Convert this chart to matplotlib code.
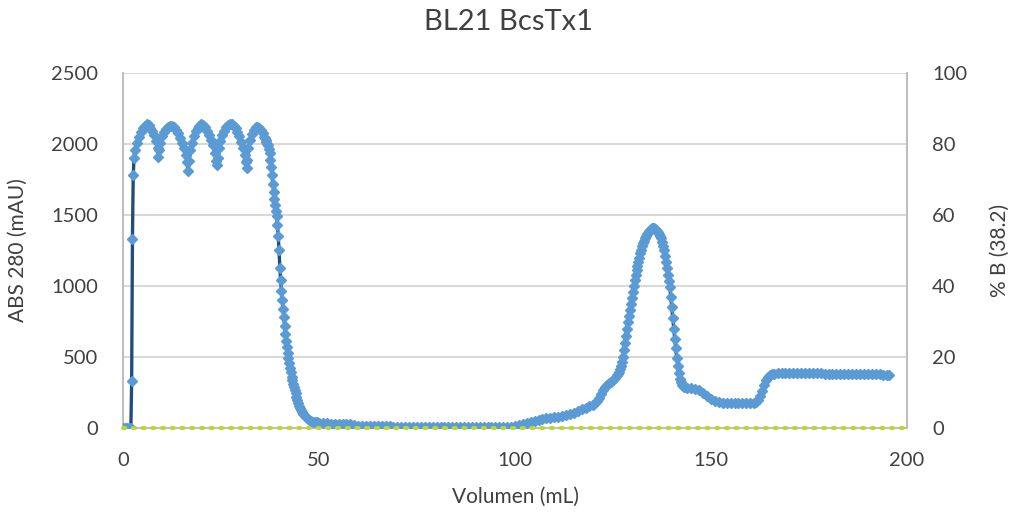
import matplotlib
matplotlib.use("Agg")
import matplotlib.pyplot as plt

plt.rcParams['font.family'] = ['Lato', 'DejaVu Sans']

title = "BL21 BcsTx1"
x_label = "Volumen (mL)"
y_label_left = "ABS 280 (mAU)"
y_label_right = "% B (38.2)"

x_ticks = [0, 50, 100, 150, 200]
y_ticks_left = [0, 500, 1000, 1500, 2000, 2500]
y_ticks_right = [0, 20, 40, 60, 80, 100]

# --- ABS 280 trace in segments ---
vol_load = [
    0.0, 0.5, 1.0, 1.5, 2.0, 2.2, 2.4, 2.6, 2.8, 3.0,
    3.5, 4.0, 4.5, 5.0, 5.5, 6.0, 6.5, 7.0, 7.5, 8.0,
    8.5, 8.8, 9.0, 9.2, 9.5, 10.0, 10.5, 11.0, 11.5, 12.0,
    12.5, 13.0, 13.5, 14.0, 14.5, 15.0, 15.5, 16.0, 16.3, 16.6,
    16.9, 17.2, 17.5, 18.0, 18.5, 19.0, 19.5, 20.0, 20.5, 21.0,
    21.5, 22.0, 22.5, 23.0, 23.4, 23.7, 23.9, 24.1, 24.4, 24.8,
    25.2, 25.7, 26.2, 26.7, 27.2, 27.7, 28.2, 28.7, 29.2, 29.7,
    30.2, 30.6, 31.0, 31.3, 31.5, 31.7, 32.0, 32.4, 32.8, 33.3,
    33.8, 34.3, 34.8, 35.2, 35.6,
]
abs_load = [
    0, 0, 0, 0, 0, 330, 1330, 1780, 1900, 1960,
    2010, 2050, 2085, 2110, 2130, 2140, 2135, 2115, 2090, 2060,
    2020, 1970, 1910, 1960, 2010, 2055, 2085, 2105, 2120, 2128,
    2128, 2118, 2100, 2075, 2045, 2010, 1970, 1920, 1870, 1810,
    1880, 1960, 2010, 2055, 2090, 2115, 2130, 2138, 2135, 2120,
    2095, 2065, 2030, 1990, 1940, 1880, 1850, 1900, 1970, 2020,
    2060, 2095, 2118, 2132, 2138, 2138, 2128, 2110, 2085, 2055,
    2015, 1975, 1920, 1870, 1830, 1890, 1970, 2030, 2070, 2100,
    2118, 2122, 2115, 2100, 2075,
]

vol_wash = [
    36.0, 36.2, 36.4, 36.6, 36.8, 37.0, 37.2, 37.4, 37.6, 37.8,
    38.0, 38.2, 38.4, 38.6, 38.8, 39.0, 39.2, 39.4, 39.6, 39.8,
    40.0, 40.2, 40.4, 40.6, 40.8, 41.0, 41.2, 41.4, 41.6, 41.8,
    42.0, 42.2, 42.4, 42.6, 42.8, 43.0, 43.2, 43.4, 43.6, 43.8,
    44.0, 44.25, 44.5, 44.75, 45.0, 45.25, 45.5, 45.75, 46.0, 46.5,
    47.0, 47.5, 48.0, 48.5, 49.0, 49.5, 50.0, 51.0, 52.0, 53.0,
    54.0, 55.0, 56.0, 57.0, 58.0, 59.0, 60.0, 61.0, 62.0, 63.0,
    64.0, 65.0, 66.0, 67.0, 68.0, 69.0, 70.0, 71.0, 72.0, 73.0,
    74.0, 75.0, 76.0, 77.0, 78.0, 79.0, 80.0, 81.0, 82.0, 83.0,
    84.0, 85.0, 86.0, 87.0, 88.0, 89.0, 90.0, 91.0, 92.0, 93.0,
    94.0, 95.0, 96.0, 97.0, 98.0, 99.0,
]
abs_wash = [
    2050, 2040, 2028, 2015, 2000, 1990, 1965, 1935, 1890, 1840,
    1780, 1720, 1665, 1615, 1570, 1530, 1490, 1430, 1350, 1250,
    1130, 1040, 965, 900, 840, 780, 720, 665, 615, 570,
    530, 495, 460, 425, 393, 360, 335, 310, 288, 266,
    245, 220, 195, 175, 155, 140, 125, 112, 100, 82,
    68, 58, 50, 45, 42, 39, 36, 33, 32, 31,
    30, 30, 29, 28, 25, 20, 17, 16, 15, 15,
    14, 14, 14, 13, 13, 10, 8, 6, 5, 5,
    5, 5, 5, 5, 5, 5, 5, 5, 5, 5,
    5, 5, 5, 5, 5, 5, 5, 5, 5, 5,
    5, 5, 5, 5, 6, 8,
]

vol_elution = [
    100.0, 101.0, 102.0, 103.0, 104.0, 105.0, 106.0, 107.0, 108.0, 109.0,
    110.0, 111.0, 112.0, 113.0, 114.0, 115.0, 116.0, 117.0, 118.0, 119.0,
    120.0, 120.5, 121.0, 121.5, 122.0, 122.5, 123.0, 123.5, 124.0, 124.5,
    125.0, 125.5, 126.0, 126.25, 126.5, 126.75, 127.0, 127.25, 127.5, 127.75,
    128.0, 128.25, 128.5, 128.75, 129.0, 129.25, 129.5, 129.75, 130.0, 130.25,
    130.5, 130.75, 131.0, 131.25, 131.5, 131.75, 132.0, 132.25, 132.5, 132.75,
    133.0, 133.25, 133.5, 133.75, 134.0, 134.25, 134.5, 134.75, 135.0, 135.25,
    135.5, 135.75, 136.0, 136.25, 136.5, 136.75, 137.0, 137.25, 137.5, 137.75,
    138.0, 138.25, 138.5, 138.75, 139.0, 139.25, 139.5, 139.75, 140.0, 140.25,
    140.5, 140.75, 141.0, 141.25, 141.5, 141.75, 142.0, 142.25, 142.5, 142.75,
    143.0,
]
abs_elution = [
    15, 20, 28, 35, 42, 48, 55, 62, 68, 72,
    76, 80, 84, 90, 98, 108, 120, 132, 142, 152,
    165, 175, 190, 212, 240, 268, 290, 303, 315, 326,
    338, 352, 370, 382, 395, 415, 440, 468, 500, 548,
    600, 650, 700, 745, 790, 830, 870, 915, 960, 1000,
    1040, 1075, 1110, 1140, 1170, 1200, 1230, 1255, 1280, 1300,
    1320, 1335, 1350, 1363, 1375, 1385, 1395, 1400, 1405, 1407,
    1405, 1400, 1395, 1388, 1380, 1368, 1355, 1335, 1310, 1282,
    1250, 1212, 1170, 1125, 1080, 1035, 990, 920, 850, 775,
    700, 628, 560, 495, 440, 390, 345, 322, 305, 296,
    290,
]

vol_tail = [
    144.0, 145.0, 146.0, 147.0, 148.0, 149.0, 150.0, 151.0, 152.0, 153.0,
    154.0, 155.0, 156.0, 157.0, 158.0, 159.0, 160.0, 161.0, 161.5, 162.0,
    162.5, 163.0, 163.5, 164.0, 164.5, 165.0, 165.5, 166.0, 167.0, 168.0,
    169.0, 170.0, 171.0, 172.0, 173.0, 174.0, 175.0, 176.0, 177.0, 178.0,
    179.0, 180.0, 181.0, 182.0, 183.0, 184.0, 185.0, 186.0, 187.0, 188.0,
    189.0, 190.0, 191.0, 192.0, 193.0, 194.0, 195.0, 195.5,
]
abs_tail = [
    282, 280, 278, 270, 250, 225, 205, 190, 182, 178,
    176, 175, 175, 175, 175, 175, 176, 178, 185, 195,
    225, 260, 300, 335, 360, 372, 377, 380, 385, 385,
    385, 385, 385, 385, 385, 385, 384, 384, 384, 384,
    383, 383, 383, 382, 382, 382, 381, 381, 381, 380,
    380, 380, 379, 379, 378, 376, 373, 370,
]

volume_ml = vol_load + vol_wash + vol_elution + vol_tail
abs280_mau = abs_load + abs_wash + abs_elution + abs_tail

# --- % B trace (flat at zero) ---
pct_b_volume = [0, 200]
pct_b = [0, 0]

fig = plt.figure(figsize=(10.11, 5.14), dpi=100)
ax = fig.add_axes([0.1217, 0.1673, 0.7754, 0.6907])

text_color = '#404040'
grid_color = '#D9D9D9'

ax.plot(volume_ml, abs280_mau, color='#1F4E79', linewidth=2.4,
        marker='D', markersize=5, markerfacecolor='#5B9BD5',
        markeredgecolor='#5B9BD5', zorder=3)

ax.set_xlim(0, 200)
ax.set_ylim(0, 2500)
ax.set_xticks(x_ticks)
ax.set_yticks(y_ticks_left)
ax.yaxis.grid(True, color=grid_color, linewidth=1.5, zorder=0)
ax.set_axisbelow(True)
ax.tick_params(axis='both', length=0, labelsize=14.5, labelcolor=text_color)
ax.tick_params(axis='y', pad=18)
ax.tick_params(axis='x', pad=17)
for side in ['left', 'right', 'bottom']:
    ax.spines[side].set_color('#BFBFBF')
    ax.spines[side].set_linewidth(1.5)
ax.spines['top'].set_visible(False)

ax2 = ax.twinx()
ax2.plot(pct_b_volume, pct_b, color='#BCD631', linewidth=2.8,
         linestyle=(0, (0.6, 1.9)), dash_capstyle='round', zorder=4, clip_on=False)
ax2.set_ylim(0, 100)
ax2.set_yticks(y_ticks_right)
ax2.tick_params(axis='y', length=0, labelsize=14.5, labelcolor=text_color, pad=18)
for side in ['left', 'right', 'bottom', 'top']:
    ax2.spines[side].set_visible(False)

W, H = 1011, 514
fig.text(515 / W, 1 - 497 / H, x_label, fontsize=15, color=text_color,
         ha='center', va='center')
fig.text(18 / W, 1 - 250 / H, y_label_left, fontsize=15, color=text_color,
         ha='center', va='center', rotation=90)
fig.text(1000 / W, 1 - 250 / H, y_label_right, fontsize=15, color=text_color,
         ha='center', va='center', rotation=90)
fig.text(508 / W, 1 - 22 / H, title, fontsize=21, color=text_color,
         ha='center', va='center')

fig.savefig('out.png', dpi=100)
